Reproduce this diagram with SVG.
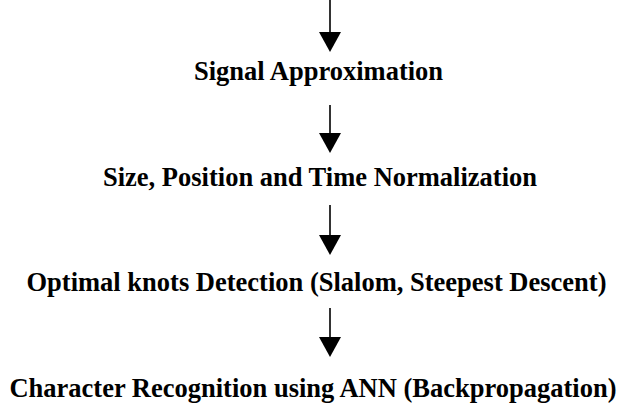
<svg xmlns="http://www.w3.org/2000/svg" width="628" height="404" viewBox="0 0 628 404">
<defs>
<style>
.c line{stroke:#000;stroke-width:1.6}
.c polygon{fill:#000}
</style>
</defs>
<rect width="628" height="404" fill="#fff"/>
<g id="connectors" class="c">
<line x1="330" y1="0" x2="330" y2="33"/><polygon points="319,32 341,32 330,52"/>
<line x1="330" y1="105" x2="330" y2="134"/><polygon points="319,133 341,133 330,153"/>
<line x1="330" y1="205" x2="330" y2="236"/><polygon points="319,235 341,235 330,255"/>
<line x1="330" y1="308" x2="330" y2="338"/><polygon points="319,337 341,337 330,357"/>
</g>
<g font-family="Liberation Serif, Times New Roman, serif" font-weight="bold" font-size="26.5" fill="#000" text-anchor="middle">
<g id="n1"><text x="318.5" y="80">Signal Approximation</text></g>
<g id="n2"><text x="320" y="186">Size, Position and Time Normalization</text></g>
<g id="n3"><text x="316.5" y="291">Optimal knots Detection (Slalom, Steepest Descent)</text></g>
<g id="n4"><text x="313" y="397">Character Recognition using ANN (Backpropagation)</text></g>
</g>
</svg>
